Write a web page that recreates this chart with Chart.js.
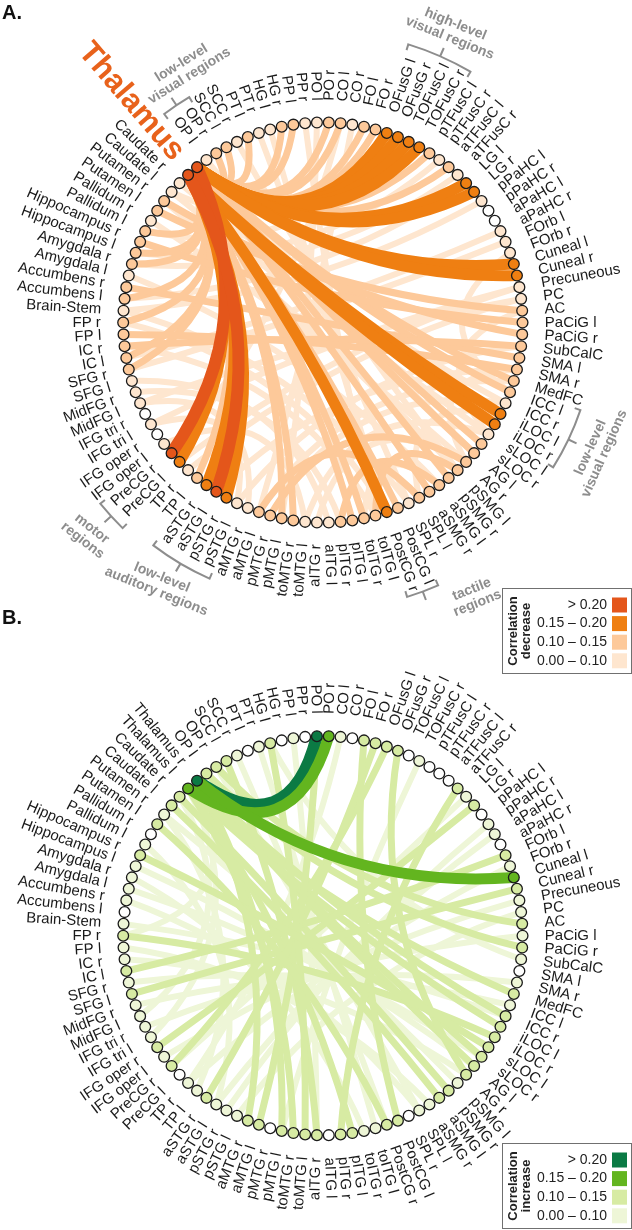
<!DOCTYPE html>
<html>
<head>
<meta charset="utf-8">
<script src="https://cdn.jsdelivr.net/npm/chart.js@4.4.0/dist/chart.umd.min.js"></script>
<style>
    body { margin: 0; background: #fff; }
    #wrap { position: relative; width: 632px; height: 1230px; overflow: hidden; }
    canvas { position: absolute; left: 0; }
</style>
</head>
<body>
<div id="wrap">
    <canvas id="panelA" width="632" height="700" style="top:0"></canvas>
    <canvas id="panelB" width="632" height="616" style="top:614px"></canvas>
</div>
<script>
// ROI order of the ring (counter-clockwise, starting at 9 o'clock)
const regions = ['FP r','FP l','IC r','IC l','SFG r','SFG l','MidFG r','MidFG l','IFG tri r','IFG tri l',
    'IFG oper r','IFG oper l','PreCG r','PreCG l','TP r','TP l','aSTG r','aSTG l','pSTG r','pSTG l',
    'aMTG r','aMTG l','pMTG r','pMTG l','toMTG r','toMTG l','aITG r','aITG l','pITG r','pITG l',
    'toITG r','toITG l','PostCG r','PostCG l','SPL r','SPL l','aSMG r','aSMG l','pSMG r','pSMG l',
    'AG r','AG l','sLOC r','sLOC l','iLOC r','iLOC l','ICC r','ICC l','MedFC','SMA r','SMA l',
    'SubCalC','PaCiG r','PaCiG l','AC','PC','Precuneous','Cuneal r','Cuneal l','FOrb r','FOrb l',
    'aPaHC r','aPaHC l','pPaHC r','pPaHC l','LG r','LG l','aTFusC r','aTFusC l','pTFusC r','pTFusC l',
    'TOFusC r','TOFusC l','OFusG r','OFusG l','FO r','FO l','CO r','CO l','PO r','PO l','PP r','PP l',
    'HG r','HG l','PT r','PT l','SCC r','SCC l','OP r','OP l','Thalamus r','Thalamus l',
    'Caudate r','Caudate l','Putamen r','Putamen l','Pallidum r','Pallidum l','Hippocampus r',
    'Hippocampus l','Amygdala r','Amygdala l','Accumbens r','Accumbens l','Brain-Stem'];

const legendLabels = ['> 0.20', '0.15 \u2013 0.20', '0.10 \u2013 0.15', '0.00 \u2013 0.10'];

// A. correlation decrease
const aOver20 = [['Thalamus r','PreCG r'], ['Thalamus l','aSTG l']];
const a15to20 = [['Thalamus r','OFusG l'], ['Thalamus r','OFusG r'], ['Thalamus r','TOFusC l'], ['Thalamus r','TOFusC r'],
    ['Thalamus r','LG l'], ['Thalamus r','LG r'], ['Thalamus r','Cuneal l'], ['Thalamus r','Cuneal r'],
    ['Thalamus l','iLOC l'], ['Thalamus l','iLOC r'], ['Thalamus l','PostCG r'],
    ['Thalamus l','PreCG l'], ['Thalamus l','aSTG r'], ['Thalamus l','pSTG r']];
const a10to15 = [['Thalamus r','OP r'], ['Thalamus r','SCC l'], ['Thalamus r','PT l'], ['Thalamus r','HG r'],
    ['Thalamus r','PP l'], ['Thalamus r','PO r'], ['Thalamus r','CO l'], ['Thalamus r','FO l'], ['Thalamus r','FO r'],
    ['Thalamus r','aTFusC l'], ['Thalamus r','pTFusC l'], ['Thalamus r','MedFC'], ['Thalamus r','ICC l'],
    ['Thalamus r','sLOC r'], ['Thalamus r','AG l'], ['Thalamus r','pSMG r'], ['Thalamus r','aSMG r'],
    ['Thalamus l','Pallidum l'], ['Thalamus l','Hippocampus l'], ['Thalamus l','Amygdala r'], ['Thalamus l','Accumbens l'],
    ['Thalamus l','FP r'], ['Thalamus l','IC l'], ['Thalamus l','SFG r'], ['Thalamus l','PostCG l'],
    ['Thalamus l','toITG r'], ['Thalamus l','pITG l'], ['Thalamus l','toMTG r'], ['Thalamus l','pMTG l'], ['Thalamus l','TP l'],
    ['Putamen r','PaCiG r'], ['Putamen l','AC'], ['Hippocampus r','PaCiG l'], ['Accumbens r','SMA l'],
    ['IC r','SubCalC'], ['FP l','SMA r'], ['aSMG l','pITG r'], ['pSMG l','toITG l'], ['aMTG l','SPL l'], ['pMTG r','AG r']];
const a0to10 = [['Caudate r','ICC r'], ['Caudate l','sLOC l'], ['Putamen r','pSMG l'], ['Pallidum r','AG r'],
    ['Amygdala l','aSMG l'], ['Brain-Stem','SPL r'], ['FP r','PostCG r'], ['IC r','toITG l'], ['SFG l','aITG l'],
    ['MidFG r','pITG r'], ['MidFG l','pSTG l'], ['IFG tri l','aMTG r'], ['IFG oper l','toMTG l'], ['PreCG l','Precuneous'],
    ['TP r','PC'], ['aSTG l','SMA r'], ['pSTG l','SubCalC'], ['aMTG l','MedFC'], ['pMTG r','ICC r'], ['toMTG l','sLOC l'],
    ['aITG r','AG r'], ['toITG r','aSMG l'], ['SPL l','iLOC l'], ['AG r','SMA r'], ['sLOC l','AC'], ['ICC l','FOrb r'],
    ['Precuneous','IFG tri l'], ['PC','MidFG l'], ['FOrb l','SFG r'], ['aPaHC r','IC l'], ['pPaHC l','Brain-Stem'],
    ['LG l','Accumbens l'], ['aTFusC r','Amygdala r'], ['pTFusC r','Hippocampus l'], ['OFusG r','Pallidum l'],
    ['CO r','aMTG l'], ['PO l','pMTG l'], ['PP r','toITG l'], ['HG l','PostCG r'], ['PT r','SPL r'],
    ['SCC r','pSMG l'], ['OP l','AG l'], ['FO r','Caudate l'], ['CO l','PreCG r']];

// B. correlation increase
const bOver20 = [['Thalamus r','PO l']];
const b15to20 = [['Thalamus l','PO r'], ['Thalamus r','Cuneal l']];
const b10to15 = [['Thalamus r','aMTG r'], ['Thalamus r','pMTG l'], ['Thalamus l','toMTG r'], ['Thalamus l','pITG l'],
    ['Thalamus r','AG l'], ['Thalamus r','sLOC r'], ['Thalamus l','iLOC l'], ['Thalamus r','ICC r'], ['Thalamus l','MedFC'],
    ['Caudate r','pSMG r'], ['Caudate l','aSMG l'], ['OP l','PaCiG r'], ['OP r','AC'],
    ['SCC l','aITG r'], ['IC l','FOrb l'], ['SFG l','Cuneal r'],
    ['IFG oper r','LG r'], ['PreCG r','OFusG l'], ['aSTG r','FO r'],
    ['aMTG l','PO l'], ['toMTG l','HG l'], ['pITG r','aTFusC r'],
    ['PostCG l','FO l'], ['AG r','OFusG r'], ['FP r','iLOC r'], ['Hippocampus r','sLOC l'], ['Putamen l','PostCG r']];
const b0to10 = [['Thalamus r','FP r'], ['Thalamus l','IFG tri l'], ['Caudate r','MidFG l'], ['Putamen r','TP l'],
    ['Pallidum l','aSTG l'], ['Amygdala r','toITG r'], ['Accumbens r','SPL l'], ['FP l','aSMG r'], ['IC r','AG r'],
    ['SFG r','ICC l'], ['MidFG r','SMA r'], ['IFG tri r','PaCiG l'], ['IFG oper l','Precuneous'],
    ['TP r','FOrb r'], ['aSTG l','aPaHC l'], ['pSTG r','pPaHC r'], ['pMTG l','TOFusC r'],
    ['aITG r','PP l'], ['toITG l','PT r'], ['PostCG r','SCC r'], ['SPL l','OP r'],
    ['pSMG l','Putamen r'], ['AG l','Hippocampus l'], ['sLOC r','Amygdala l'],
    ['ICC r','Brain-Stem'], ['SubCalC','HG l'], ['PC','pSTG l'], ['LG l','PreCG r'], ['CO l','TP r']];

const FONT = "'Liberation Sans', Arial, sans-serif";
const GREY = '#8d8d8d';
const chordWidths = [6, 7, 11, 12]; // lightest .. darkest
const LABEL_R = 222;

const angleOf = (i) => Math.PI + i * 2 * Math.PI / regions.length;
const nodePoints = regions.map((r, i) => ({ x: Math.cos(angleOf(i)), y: Math.sin(angleOf(i)) }));

const nodeFill = (edgeSets, colors) => regions.map(name => {
    let best = -1;
    edgeSets.forEach((set, k) => {
        if (set.some(e => e[0] === name || e[1] === name)) best = Math.max(best, k);
    });
    return best < 0 ? '#ffffff' : colors[best];
});

const drawBracket = (ctx, cx, cy, g) => {
    const a1 = angleOf(regions.indexOf(g.from)), a2 = angleOf(regions.indexOf(g.to));
    const lo = Math.min(a1, a2) - 0.028, hi = Math.max(a1, a2) + 0.028, mid = (lo + hi) / 2;
    const pt = (a, r) => [cx + r * Math.cos(a), cy - r * Math.sin(a)];
    ctx.save();
    ctx.strokeStyle = GREY; ctx.lineWidth = 2;
    ctx.beginPath();
    ctx.moveTo(...pt(lo, g.R - 6)); ctx.lineTo(...pt(lo, g.R));
    ctx.arc(cx, cy, g.R, -lo, -hi, true);
    ctx.lineTo(...pt(hi, g.R - 6));
    ctx.moveTo(...pt(mid, g.R)); ctx.lineTo(...pt(mid, g.R + 9));
    ctx.stroke();
    const t = g.ta * Math.PI / 180;
    ctx.translate(cx + g.tr * Math.cos(t), cy - g.tr * Math.sin(t));
    ctx.rotate(g.rot * Math.PI / 180);
    ctx.fillStyle = GREY; ctx.font = 'bold 14px ' + FONT;
    ctx.textAlign = 'center'; ctx.textBaseline = 'middle';
    ctx.fillText(g.lines[0], 0, -7.5);
    ctx.fillText(g.lines[1], 0, 7.5);
    ctx.restore();
};

const drawLegend = (ctx, x, y, title, colors) => {
    ctx.save();
    ctx.fillStyle = '#fff'; ctx.fillRect(x, y, 129, 85);
    ctx.strokeStyle = '#707070'; ctx.lineWidth = 1; ctx.strokeRect(x + 0.5, y + 0.5, 129, 85);
    ctx.fillStyle = '#222'; ctx.font = '14px ' + FONT; ctx.textAlign = 'right'; ctx.textBaseline = 'middle';
    legendLabels.forEach((lab, k) => {
        const yy = y + 17 + k * 18.6;
        ctx.fillText(lab, x + 105, yy);
        ctx.fillStyle = colors[3 - k]; ctx.fillRect(x + 110, yy - 7.5, 15, 15);
        ctx.fillStyle = '#222';
    });
    ctx.translate(x + 17.5, y + 43); ctx.rotate(-Math.PI / 2);
    ctx.font = 'bold 13px ' + FONT; ctx.textAlign = 'center';
    ctx.fillText(title[0], 0, -6.5);
    ctx.fillText(title[1], 0, 6.5);
    ctx.restore();
};

const ringPlugin = (panel) => ({
    id: 'ring',
    beforeDatasetsDraw(chart) {
        const ctx = chart.ctx;
        const pts = chart.getDatasetMeta(0).data;
        const cx = chart.scales.x.getPixelForValue(0), cy = chart.scales.y.getPixelForValue(0);
        const R = chart.scales.x.getPixelForValue(1) - cx;
        ctx.save();
        ctx.beginPath(); ctx.arc(cx, cy, R, 0, 2 * Math.PI); ctx.clip();
        ctx.lineCap = 'butt';
        // categories are painted in panel.drawOrder (lightest first by default)
        (panel.drawOrder || [0, 1, 2, 3]).forEach(k => {
            ctx.strokeStyle = panel.colors[k]; ctx.lineWidth = chordWidths[k];
            panel.edges[k].forEach(([a, b]) => {
                const i = regions.indexOf(a), j = regions.indexOf(b);
                const p = pts[i], q = pts[j];
                let d = Math.abs(angleOf(i) - angleOf(j)) % (2 * Math.PI);
                if (d > Math.PI) d = 2 * Math.PI - d;
                // pull of the chord towards the centre, stronger for distant nodes
                const f = 0.42 + 0.35 * Math.max(0, 1 - d * 18 / (5 * Math.PI));
                const kx = cx + f * ((p.x + q.x) / 2 - cx), ky = cy + f * ((p.y + q.y) / 2 - cy);
                ctx.beginPath(); ctx.moveTo(p.x, p.y); ctx.quadraticCurveTo(kx, ky, q.x, q.y); ctx.stroke();
            });
        });
        ctx.restore();
    },
    afterDatasetsDraw(chart) {
        const ctx = chart.ctx;
        const cx = chart.scales.x.getPixelForValue(0), cy = chart.scales.y.getPixelForValue(0);
        ctx.save();
        ctx.fillStyle = '#1a1a1a'; ctx.font = '15px ' + FONT; ctx.textBaseline = 'middle';
        regions.forEach((name, i) => {
            if (panel.skip && panel.skip.includes(name)) return;
            const a = angleOf(i);
            ctx.save(); ctx.translate(cx, cy);
            if (Math.cos(a) >= 0) {
                ctx.rotate(-a); ctx.textAlign = 'left'; ctx.fillText(name, LABEL_R, 0);
            } else {
                ctx.rotate(Math.PI - a); ctx.textAlign = 'right'; ctx.fillText(name, -LABEL_R, 0);
            }
            ctx.restore();
        });
        if (panel.big) {
            const a = (angleOf(regions.indexOf(panel.big.from)) + angleOf(regions.indexOf(panel.big.to))) / 2;
            ctx.save(); ctx.translate(cx, cy); ctx.rotate(Math.PI - a);
            ctx.fillStyle = panel.big.color; ctx.font = 'bold 31px ' + FONT; ctx.textAlign = 'right';
            ctx.fillText(panel.big.text, -LABEL_R + 2, 1);
            ctx.restore();
        }
        (panel.groups || []).forEach(g => drawBracket(ctx, cx, cy, g));
        drawLegend(ctx, 502, panel.legendY, panel.title, panel.colors);
        ctx.fillStyle = '#111'; ctx.font = 'bold 20px ' + FONT; ctx.textAlign = 'left'; ctx.textBaseline = 'alphabetic';
        panel.letters.forEach(([txt, y]) => ctx.fillText(txt, 2, y));
        ctx.restore();
    }
});

const createPanel = (id, panel, yMin) => {
    const edges = panel.edges;
    return new Chart(document.getElementById(id), {
        type: 'scatter',
        data: {
            datasets: [{
                data: nodePoints,
                pointRadius: 5.4,
                pointHoverRadius: 5.4,
                pointBorderWidth: 1.3,
                pointBorderColor: '#1b1b1b',
                pointBackgroundColor: nodeFill(edges, panel.colors),
                clip: false
            }]
        },
        options: {
            responsive: false,
            animation: false,
            events: [],
            layout: { padding: 0 },
            scales: {
                x: { type: 'linear', min: -323 / 204, max: 309 / 204, display: false },
                y: { type: 'linear', min: yMin, max: 322 / 204, display: false }
            },
            plugins: { legend: { display: false }, tooltip: { enabled: false } }
        },
        plugins: [ringPlugin(panel)]
    });
};

createPanel('panelA', {
    letters: [['A.', 19], ['B.', 624]],
    edges: [a0to10, a10to15, a15to20, aOver20],
    colors: ['#FEE6CF', '#FDC99A', '#EF7F12', '#E4561B'],
    title: ['Correlation', 'decrease'],
    legendY: 588,
    skip: ['Thalamus r', 'Thalamus l'],
    big: { text: 'Thalamus', from: 'Thalamus r', to: 'Thalamus l', color: '#E8621B' },
    groups: [
        { from: 'OP r', to: 'OP l', R: 262, lines: ['low-level', 'visual regions'], tr: 288, ta: 118.5, rot: -32 },
        { from: 'TOFusC r', to: 'OFusG l', R: 291, lines: ['high-level', 'visual regions'], tr: 319, ta: 66, rot: 22 },
        { from: 'iLOC r', to: 'ICC l', R: 272, lines: ['low-level', 'visual regions'], tr: 303, ta: -25, rot: -66 },
        { from: 'PostCG r', to: 'PostCG l', R: 287, lines: ['tactile', 'regions'], tr: 313, ta: -61, rot: -22 },
        { from: 'aSTG r', to: 'pSTG l', R: 280, lines: ['low-level', 'auditory regions'], tr: 309, ta: 238, rot: 22 },
        { from: 'PreCG r', to: 'PreCG l', R: 287, lines: ['motor', 'regions'], tr: 317, ta: 222, rot: 38 }
    ]
}, -378 / 204);

createPanel('panelB', {
    letters: [],
    edges: [b0to10, b10to15, b15to20, bOver20],
    drawOrder: [0, 1, 3, 2],
    colors: ['#EEF6D7', '#D7EBA3', '#63B51F', '#0B7A44'],
    title: ['Correlation', 'increase'],
    legendY: 529
}, -294 / 204);
</script>
</body>
</html>
